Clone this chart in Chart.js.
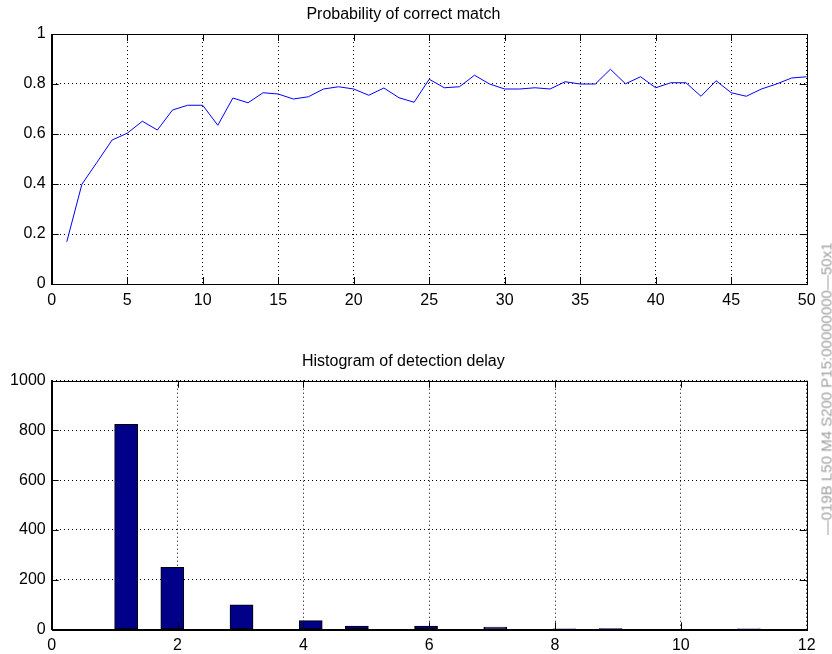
<!DOCTYPE html>
<html>
<head>
<meta charset="utf-8">
<script src="https://cdn.jsdelivr.net/npm/chart.js@4.4.1/dist/chart.umd.min.js"></script>
<style>
  body { margin: 0; background: #fff; width: 832px; height: 654px; overflow: hidden; position: relative; }
  canvas { position: absolute; left: 0; }
  #topChart { top: 0; }
  #bottomChart { top: 327px; }
  .side-note {
    position: absolute;
    left: 826px; top: 389px;
    transform: translate(-50%, -50%) rotate(-90deg);
    white-space: nowrap;
    font: 15px "Liberation Sans", Arial, Helvetica, sans-serif;
    color: #a0a0a0;
  }
</style>
</head>
<body>
<canvas id="topChart" width="832" height="327"></canvas>
<canvas id="bottomChart" width="832" height="327"></canvas>
<div class="side-note">—019B L50 M4 S200 P15:00000000—50x1</div>

<script>
// ---- data ----
const trials = [1, 2, 3, 4, 5, 6, 7, 8, 9, 10, 11, 12, 13, 14, 15, 16, 17, 18, 19, 20,
  21, 22, 23, 24, 25, 26, 27, 28, 29, 30, 31, 32, 33, 34, 35, 36, 37, 38, 39, 40,
  41, 42, 43, 44, 45, 46, 47, 48, 49, 50];
const matchProb = [0.169, 0.399, 0.487, 0.576, 0.603, 0.651, 0.616, 0.696, 0.715, 0.715,
  0.635, 0.744, 0.725, 0.765, 0.760, 0.740, 0.749, 0.780, 0.789, 0.780,
  0.755, 0.784, 0.745, 0.727, 0.819, 0.785, 0.789, 0.835, 0.800, 0.780,
  0.780, 0.785, 0.780, 0.809, 0.800, 0.800, 0.859, 0.801, 0.829, 0.785,
  0.805, 0.805, 0.751, 0.813, 0.765, 0.751, 0.780, 0.800, 0.824, 0.829];

// histogram bin centres (30 bins between 1 and 12) and counts
const delayBins = [1.183, 1.550, 1.917, 2.283, 2.650, 3.017, 3.383, 3.750, 4.117, 4.483,
  4.850, 5.217, 5.583, 5.950, 6.317, 6.683, 7.050, 7.417, 7.783, 8.150,
  8.517, 8.883, 9.250, 9.617, 9.983, 10.350, 10.717, 11.083, 11.450, 11.817];
const delayCounts = [824, 0, 249, 0, 0, 98, 0, 0, 35, 0,
  13, 0, 0, 13, 0, 0, 9, 0, 0, 1,
  0, 3, 0, 0, 0, 0, 0, 1, 0, 0];

const topXTicks = [0, 50, 5];
const topYTicks = [0, 1, 0.2];
const botXTicks = [0, 12, 2];
const botYTicks = [0, 1000, 200];

// ---- shared look ----
const FONT = { family: '"Liberation Sans", Arial, Helvetica, sans-serif', size: 16 };
Chart.defaults.color = '#000';
Chart.defaults.animation = false;

// box round the plot + inward tick marks on all four sides
const matlabBox = {
  id: 'matlabBox',
  afterDraw(chart) {
    const { ctx, chartArea: a, scales: { x, y } } = chart;
    const len = 7;
    ctx.save();
    ctx.strokeStyle = '#000';
    ctx.lineWidth = 1;
    ctx.beginPath();
    x.ticks.forEach(t => {
      const px = Math.round(x.getPixelForValue(t.value)) + 0.5;
      ctx.moveTo(px, a.bottom); ctx.lineTo(px, a.bottom - len);
      ctx.moveTo(px, a.top); ctx.lineTo(px, a.top + len);
    });
    y.ticks.forEach(t => {
      const py = Math.round(y.getPixelForValue(t.value)) + 0.5;
      ctx.moveTo(a.left, py); ctx.lineTo(a.left + len, py);
      ctx.moveTo(a.right, py); ctx.lineTo(a.right - len, py);
    });
    ctx.stroke();
    ctx.strokeRect(Math.round(a.left) + 0.5, Math.round(a.top) + 0.5,
      Math.round(a.right - a.left), Math.round(a.bottom - a.top));
    ctx.restore();
  }
};

function axis(range, fitSize, horizontal) {
  return {
    type: 'linear',
    min: range[0],
    max: range[1],
    offset: false,
    grid: { color: '#000', lineWidth: 1, drawTicks: false, offset: false },
    border: { display: true, color: '#000', width: 1, dash: [1, 3] },
    ticks: {
      stepSize: range[2],
      font: FONT,
      padding: horizontal ? 7 : 6,
      maxRotation: 0,
      callback: v => String(Math.round(v * 10) / 10)
    },
    afterFit: s => { if (horizontal) s.height = fitSize; else s.width = fitSize; }
  };
}

function titleOpts(text, top, bottom) {
  return { display: true, text, color: '#000', font: { ...FONT, weight: 'normal' },
    padding: { top, bottom } };
}

// ============================================
//  Probability of correct match
// ============================================
new Chart(document.getElementById('topChart'), {
  type: 'line',
  data: {
    datasets: [{
      data: trials.map((t, i) => ({ x: t, y: matchProb[i] })),
      borderColor: '#0000ff',
      borderWidth: 1,
      pointRadius: 0,
      tension: 0,
      fill: false
    }]
  },
  options: {
    responsive: false,
    layout: { padding: { left: 0, right: 25.3, top: 0, bottom: 0 } },
    plugins: {
      legend: { display: false },
      tooltip: { enabled: false },
      title: titleOpts('Probability of correct match', 4.9, 9.9)
    },
    scales: {
      x: axis(topXTicks, 43, true),
      y: axis(topYTicks, 51.7, false)
    }
  },
  plugins: [matlabBox]
});

// ============================================
//  Histogram of detection delay
// ============================================
new Chart(document.getElementById('bottomChart'), {
  type: 'bar',
  data: {
    datasets: [{
      data: delayBins.map((b, i) => ({ x: b, y: delayCounts[i] })),
      backgroundColor: '#000088',
      borderColor: '#000',
      borderWidth: 1,
      borderSkipped: false,
      barPercentage: 1,
      categoryPercentage: 1
    }]
  },
  options: {
    responsive: false,
    layout: { padding: { left: 0, right: 25.3, top: 0, bottom: 0 } },
    plugins: {
      legend: { display: false },
      tooltip: { enabled: false },
      title: titleOpts('Histogram of detection delay', 24.6, 9.9)
    },
    scales: {
      x: axis(botXTicks, 24.7, true),
      y: axis(botYTicks, 51.7, false)
    }
  },
  plugins: [matlabBox]
});
</script>
</body>
</html>
